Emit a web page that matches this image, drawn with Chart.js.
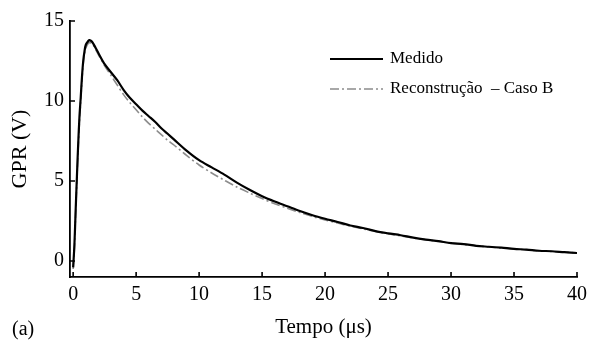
<!DOCTYPE html>
<html>
<head>
<meta charset="utf-8">
<script src="https://cdn.jsdelivr.net/npm/chart.js@4/dist/chart.umd.min.js"></script>
<style>
  html, body { margin: 0; padding: 0; background: #fff; }
  #wrap { width: 593px; height: 340px; position: relative; }
</style>
</head>
<body>
<div id="wrap"><canvas id="gprChart"></canvas></div>
<script>
// time axis (µs)
const tempo = [0, 0.1, 0.2, 0.3, 0.4, 0.5, 0.6, 0.7, 0.8, 0.9, 1.0, 1.2, 1.3, 1.5, 1.8, 2.0, 2.5, 3.0, 3.5, 4.0,
    4.5, 5.0, 5.5, 6.0, 6.5, 7.0, 7.5, 8.0, 9, 10, 11, 12, 13, 14, 15, 16, 17, 18, 19, 20,
    21, 22, 23, 24, 25, 26, 27, 28, 29, 30, 31, 32, 33, 34, 35, 36, 37, 38, 39, 40];

const medido = [-0.4, 1.0, 3.2, 5.3, 7.3, 9.0, 10.2, 11.5, 12.5, 13.1, 13.5, 13.75, 13.8, 13.7, 13.3, 13.0, 12.3, 11.8, 11.3, 10.7,
    10.2, 9.8, 9.4, 9.05, 8.7, 8.3, 7.95, 7.6, 6.9, 6.3, 5.85, 5.4, 4.9, 4.45, 4.05, 3.72, 3.42, 3.12, 2.86, 2.64,
    2.44, 2.22, 2.06, 1.87, 1.73, 1.61, 1.46, 1.34, 1.24, 1.12, 1.06, 0.95, 0.89, 0.83, 0.76, 0.71, 0.64, 0.61, 0.55, 0.5];

const reconstrucao = [-0.5, 0.8, 3.0, 5.1, 7.0, 8.7, 10.0, 11.3, 12.3, 12.9, 13.3, 13.6, 13.65, 13.6, 13.2, 12.9, 12.2, 11.6, 11.0, 10.4,
    9.9, 9.45, 9.0, 8.6, 8.25, 7.9, 7.55, 7.25, 6.6, 6.0, 5.5, 5.05, 4.62, 4.25, 3.9, 3.58, 3.3, 3.03, 2.78, 2.57,
    2.37, 2.18, 2.01, 1.85, 1.7, 1.57, 1.44, 1.33, 1.22, 1.12, 1.03, 0.95, 0.88, 0.81, 0.75, 0.69, 0.64, 0.59, 0.55, 0.51];

const xTicks = [0, 5, 10, 15, 20, 25, 30, 35, 40];
const yTicks = [0, 5, 10, 15];

const FONT = '"Liberation Serif", "Times New Roman", serif';
const AXIS_COLOR = '#000';

// inward tick marks, the little legend box and the "(a)" panel label
const decorations = {
    id: 'decorations',
    afterDraw(chart) {
        const c = chart.ctx;
        const xs = chart.scales.x, ys = chart.scales.y;
        const area = chart.chartArea;
        c.save();
        c.strokeStyle = AXIS_COLOR;
        c.lineWidth = 1.6;
        c.beginPath();
        xs.ticks.forEach(t => {
            const px = xs.getPixelForValue(t.value);
            c.moveTo(px, area.bottom);
            c.lineTo(px, area.bottom - 5);
        });
        ys.ticks.forEach(t => {
            const py = ys.getPixelForValue(t.value);
            c.moveTo(area.left, py);
            c.lineTo(area.left + 5, py);
        });
        c.stroke();

        // legend
        const rows = [59, 89];
        c.font = '17px ' + FONT;
        c.textBaseline = 'middle';
        c.fillStyle = '#000';
        chart.data.datasets.forEach((ds, i) => {
            const y = rows[i];
            c.strokeStyle = ds.borderColor;
            c.lineWidth = ds.borderWidth;
            c.setLineDash(ds.borderDash || []);
            c.beginPath();
            c.moveTo(330, y);
            c.lineTo(383, y);
            c.stroke();
            c.setLineDash([]);
            c.fillText(ds.label, 390, y);
        });

        c.font = '20px ' + FONT;
        c.fillText('(a)', 12, 330);
        c.restore();
    }
};

new Chart(document.getElementById('gprChart'), {
    type: 'line',
    data: {
        datasets: [
            {
                label: 'Medido',
                data: tempo.map((t, i) => ({ x: t, y: medido[i] })),
                borderColor: '#000',
                borderWidth: 2.2,
                pointRadius: 0,
                tension: 0.3,
                fill: false
            },
            {
                label: 'Reconstrução  – Caso B',
                data: tempo.map((t, i) => ({ x: t, y: reconstrucao[i] })),
                borderColor: '#8c8c8c',
                borderWidth: 1.6,
                borderDash: [9, 3, 2, 3],
                pointRadius: 0,
                tension: 0.3,
                fill: false
            }
        ]
    },
    options: {
        responsive: true,
        maintainAspectRatio: false,
        animation: false,
        layout: { padding: { top: 21, right: 8, left: 0, bottom: 0 } },
        plugins: {
            legend: { display: false },
            tooltip: { enabled: false }
        },
        scales: {
            x: {
                type: 'linear',
                min: -0.25,
                max: 40,
                afterFit: s => { s.height = 63; },
                afterBuildTicks: s => { s.ticks = xTicks.map(v => ({ value: v })); },
                grid: { display: false, drawTicks: false },
                border: { display: true, color: AXIS_COLOR, width: 1.8 },
                ticks: {
                    color: '#000',
                    padding: 6,
                    maxRotation: 0,
                    font: { family: FONT, size: 20 }
                },
                title: {
                    display: true,
                    text: 'Tempo (μs)',
                    color: '#000',
                    padding: { top: 2, bottom: 0 },
                    font: { family: FONT, size: 21 }
                }
            },
            y: {
                type: 'linear',
                min: -1,
                max: 15,
                afterFit: s => { s.width = 70; },
                afterBuildTicks: s => { s.ticks = yTicks.map(v => ({ value: v })); },
                grid: { display: false, drawTicks: false },
                border: { display: true, color: AXIS_COLOR, width: 1.8 },
                ticks: {
                    color: '#000',
                    padding: 6,
                    font: { family: FONT, size: 20 }
                },
                title: {
                    display: true,
                    text: 'GPR (V)',
                    color: '#000',
                    padding: { top: 7, bottom: 0 },
                    font: { family: FONT, size: 22 }
                }
            }
        }
    },
    plugins: [decorations]
});
</script>
</body>
</html>
